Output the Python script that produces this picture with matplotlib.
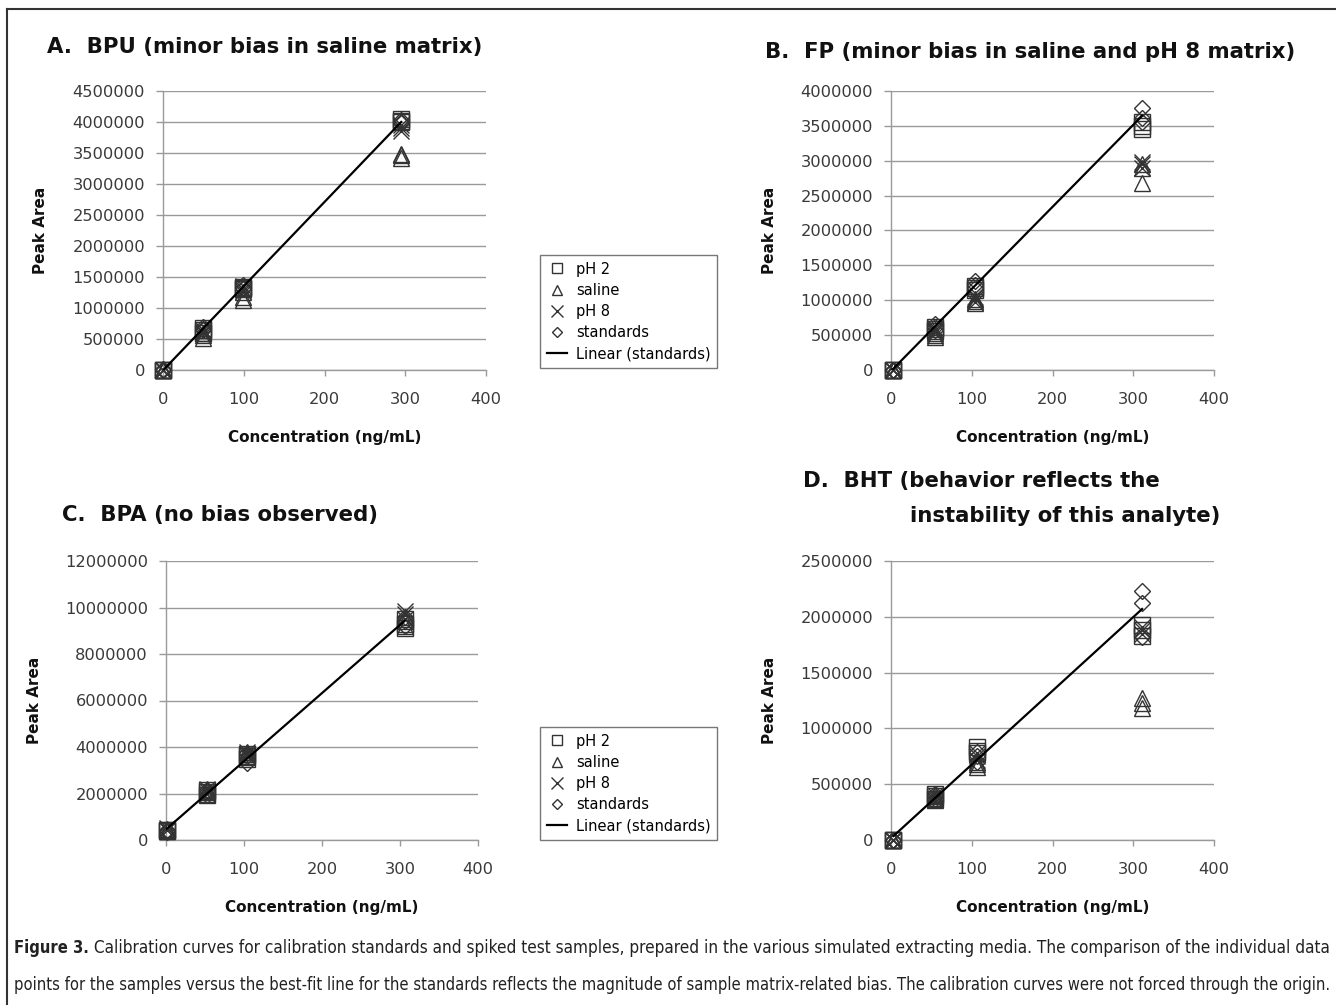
import numpy as np
import matplotlib
matplotlib.use("Agg")
import matplotlib.pyplot as plt
from matplotlib.lines import Line2D

# ---------------- data ----------------
series_names = ["pH 2", "saline", "pH 8", "standards"]

# BPU
bpu_conc = [0, 50, 99, 295]
bpu_ph2 = [[0, 0, 0], [650000, 600000, 680000], [1320000, 1300000, 1340000], [4020000, 4000000, 4050000]]
bpu_saline = [[0, 0, 0], [520000, 560000, 600000], [1130000, 1180000, 1250000], [3420000, 3460000, 3480000]]
bpu_ph8 = [[0, 0, 0], [600000, 620000, 650000], [1280000, 1310000, 1350000], [3850000, 3900000, 3950000]]
bpu_std = [[10000, 0, 5000], [640000, 660000, 700000], [1300000, 1330000, 1370000], [3980000, 4000000, 4030000]]

# FP
fp_conc = [2, 54, 104, 311]
fp_ph2 = [[0, 0, 0], [560000, 590000, 620000], [1150000, 1180000, 1200000], [3450000, 3500000, 3560000]]
fp_saline = [[0, 0, 0], [470000, 500000, 530000], [960000, 990000, 1020000], [2680000, 2900000, 2950000]]
fp_ph8 = [[0, 0, 0], [540000, 580000, 600000], [980000, 1020000, 1050000], [2900000, 2950000, 2980000]]
fp_std = [[0, 0, 0], [580000, 620000, 660000], [1180000, 1220000, 1270000], [3550000, 3620000, 3750000]]

# BPA
bpa_conc = [1, 52, 104, 306]
bpa_ph2 = [[380000, 420000, 450000], [1950000, 2050000, 2150000], [3500000, 3600000, 3700000], [9100000, 9300000, 9500000]]
bpa_saline = [[400000, 450000, 480000], [2000000, 2100000, 2200000], [3550000, 3700000, 3800000], [9200000, 9400000, 9600000]]
bpa_ph8 = [[420000, 450000, 500000], [2000000, 2100000, 2200000], [3600000, 3700000, 3800000], [9500000, 9700000, 9850000]]
bpa_std = [[350000, 400000, 450000], [1950000, 2050000, 2150000], [3300000, 3600000, 3750000], [9200000, 9400000, 9600000]]

# BHT
bht_conc = [3, 54, 106, 311]
bht_ph2 = [[0, 0, 0], [370000, 390000, 410000], [780000, 800000, 830000], [1830000, 1880000, 1930000]]
bht_saline = [[0, 0, 0], [360000, 380000, 400000], [650000, 680000, 700000], [1180000, 1230000, 1270000]]
bht_ph8 = [[0, 0, 0], [360000, 380000, 400000], [720000, 750000, 780000], [1850000, 1880000, 1910000]]
bht_std = [[0, 0, 0], [370000, 390000, 410000], [700000, 750000, 790000], [1820000, 2120000, 2230000]]

titles = ["A.  BPU (minor bias in saline matrix)",
          "B.  FP (minor bias in saline and pH 8 matrix)",
          "C.  BPA (no bias observed)",
          "D.  BHT (behavior reflects the",
          "instability of this analyte)"]

a_yticks = [0, 500000, 1000000, 1500000, 2000000, 2500000, 3000000, 3500000, 4000000, 4500000]
b_yticks = [0, 500000, 1000000, 1500000, 2000000, 2500000, 3000000, 3500000, 4000000]
c_yticks = [0, 2000000, 4000000, 6000000, 8000000, 10000000, 12000000]
d_yticks = [0, 500000, 1000000, 1500000, 2000000, 2500000]
xticks = [0, 100, 200, 300, 400]

caption1_bold = "Figure 3."
caption1 = (" Calibration curves for calibration standards and spiked test samples, prepared in the various "
            "simulated extracting media. The comparison of the individual data")
caption2 = ("points for the samples versus the best-fit line for the standards reflects the magnitude of "
            "sample matrix-related bias. The calibration curves were not forced through the origin.")

# ---------------- style ----------------
W, H = 1336, 1005
fig = plt.figure(figsize=(W / 100, H / 100), dpi=100)
fig.patch.set_facecolor("white")

TICK_FONT = "DejaVu Sans"
GRID = "#9a9a9a"
TXT = "#3a3a3a"

markers = ["s", "^", "x", "D"]
msizes = [11, 11, 11, 8.5]


def px_ax(x0, x1, ybot, ytop):
    return [x0 / W, 1 - ybot / H, (x1 - x0) / W, (ybot - ytop) / H]


panels = [
    (px_ax(163, 486, 370, 91), bpu_conc, [bpu_ph2, bpu_saline, bpu_ph8, bpu_std], a_yticks, -0.356),
    (px_ax(891, 1214, 370, 91), fp_conc, [fp_ph2, fp_saline, fp_ph8, fp_std], b_yticks, -0.353),
    (px_ax(166, 478, 840, 561), bpa_conc, [bpa_ph2, bpa_saline, bpa_ph8, bpa_std], c_yticks, -0.397),
    (px_ax(891, 1214, 840, 561), bht_conc, [bht_ph2, bht_saline, bht_ph8, bht_std], d_yticks, -0.353),
]

for rect, conc, sers, yt, ylab_x in panels:
    ax = fig.add_axes(rect)
    ax.set_xlim(0, 400)
    ax.set_ylim(yt[0], yt[-1])
    ax.set_xticks(xticks)
    ax.set_yticks(yt)
    ax.set_xticklabels([str(v) for v in xticks])
    ax.set_yticklabels([str(v) for v in yt])
    ax.yaxis.grid(True, color=GRID, lw=1.0)
    ax.set_axisbelow(True)
    for s in ["top", "right"]:
        ax.spines[s].set_visible(False)
    for s in ["left", "bottom"]:
        ax.spines[s].set_color(GRID)
        ax.spines[s].set_linewidth(1.0)
    ax.tick_params(axis="both", colors=GRID, labelcolor=TXT, labelsize=11.7, width=1.0)
    ax.tick_params(axis="y", length=5, pad=8)
    ax.tick_params(axis="x", length=4, pad=12)
    for lab in ax.get_xticklabels() + ax.get_yticklabels():
        lab.set_fontfamily(TICK_FONT)
    for k, vals in enumerate(sers):
        xs = np.repeat(conc, len(vals[0]))
        ys = np.array(vals).ravel()
        ax.plot(xs, ys, linestyle="none", marker=markers[k], ms=msizes[k],
                mfc="none", mec="#333333", mew=1.0, clip_on=False, zorder=3)
    sx = np.repeat(conc, len(sers[3][0]))
    sy = np.array(sers[3]).ravel()
    m, b = np.polyfit(sx, sy, 1)
    xl = np.array([min(conc), max(conc)])
    ax.plot(xl, m * xl + b, color="black", lw=1.6, zorder=4)
    ax.set_ylabel("Peak Area", fontsize=11, fontweight="bold", family="DejaVu Sans", color="#111111")
    ax.yaxis.set_label_coords(ylab_x, 0.5)
    ax.set_xlabel("Concentration (ng/mL)", fontsize=11, fontweight="bold", family="DejaVu Sans", color="#111111")
    ax.xaxis.set_label_coords(0.5, -0.215)

fig.canvas.draw()
renderer = fig.canvas.get_renderer()


def fit_text(x0, x1, yc, s, size0, **kw):
    t = fig.text(x0 / W, 1 - yc / H, s, fontsize=size0, va="center", ha="left", **kw)
    for _ in range(3):
        w = t.get_window_extent(renderer).width
        t.set_fontsize(t.get_fontsize() * (x1 - x0) / w)
    return t


# titles (widths fitted to the reference)
tkw = dict(fontweight="bold", family="DejaVu Sans", color="#111111")
tA = fit_text(47, 493, 47, titles[0], 15, **tkw)
tB = fit_text(765, 1297, 52, titles[1], 15, **tkw)
tsize = min(tA.get_fontsize(), tB.get_fontsize())
for t in (tA, tB):
    t.set_fontsize(tsize)
fig.text(62 / W, 1 - 515 / H, titles[2], fontsize=tsize, va="center", ha="left", **tkw)
fig.text(803 / W, 1 - 481 / H, titles[3], fontsize=tsize, va="center", ha="left", **tkw)
fig.text(910 / W, 1 - 516 / H, titles[4], fontsize=tsize, va="center", ha="left", **tkw)

# legends
handles = [Line2D([], [], ls="none", marker=markers[k], ms=[7, 7, 8, 5.5][k], mfc="none", mec="#333333", mew=1.0)
           for k in range(4)]
handles.append(Line2D([], [], color="black", lw=1.6))
labels = series_names + ["Linear (standards)"]
for (lx, ly) in [(540, 255), (540, 727)]:
    leg = fig.legend(handles, labels, loc="upper left", bbox_to_anchor=(lx / W, 1 - ly / H),
                     frameon=True, fancybox=False, prop={"family": "DejaVu Sans", "size": 10.5},
                     handlelength=1.4, handletextpad=0.6, labelspacing=0.42, borderpad=0.45,
                     borderaxespad=0.0)
    leg.get_frame().set_edgecolor("#555555")
    leg.get_frame().set_linewidth(1.0)

# frame
fig.add_artist(Line2D([7 / W, 1], [1 - 9 / H, 1 - 9 / H], color="#333333", lw=1.5, transform=fig.transFigure))
fig.add_artist(Line2D([7 / W, 7 / W], [0, 1 - 9 / H], color="#333333", lw=1.5, transform=fig.transFigure))

# caption with fitted width
ckw = dict(family="DejaVu Sans", fontstretch="condensed", color="#222222")
t2 = fit_text(14, 1330, 985, caption2, 12, **ckw)
cap_size = t2.get_fontsize()
tb = fig.text(14 / W, 1 - 948 / H, caption1_bold, fontsize=cap_size, fontweight="bold",
              va="center", ha="left", **ckw)
wb = tb.get_window_extent(renderer).width
fit_text(14 + wb, 1330, 948, caption1, cap_size, **ckw)

fig.savefig("out.png", dpi=100, facecolor="white")
